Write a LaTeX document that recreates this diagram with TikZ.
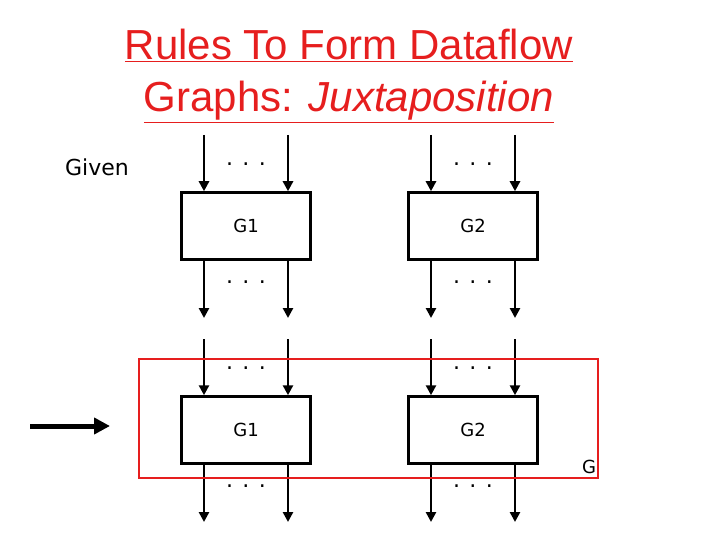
\documentclass[tikz,border=0pt]{standalone}
\usepackage{fontspec}
\setmainfont{DejaVu Sans}
\newfontfamily\titlefont{Liberation Sans}
\usetikzlibrary{arrows.meta}
\definecolor{tred}{RGB}{230,30,30}
\tikzset{x=1pt,y=-1pt,
 gbox/.style={draw,line width=2.5pt,minimum width=129pt,minimum height=67pt,inner sep=0pt,font=\fontsize{18}{20}\selectfont},
 flow/.style={line width=2.5pt,-{Triangle[length=10pt,width=10pt]}},
 dots/.style={font=\fontsize{22}{24}\selectfont}}
\begin{document}
\begin{tikzpicture}
\useasboundingbox (0,0) rectangle (720,540);
\node[text=tred,font=\titlefont\fontsize{42}{52}\selectfont,align=center] (title) at (349,76)
 {\underline{Rules To Form Dataflow}\\\underline{Graphs: \textit{Juxtaposition}}};
\node[font=\fontsize{22}{26}\selectfont] (given) at (97,167) {Given};
\foreach \n/\cx/\cy/\lab in {a/246/226/G1,b/473/226/G2,c/246/430/G1,d/473/430/G2}{
 \node[gbox] (\n) at (\cx,\cy) {\lab};
 \coordinate (\n i1) at (\cx-42,\cy-91);
 \coordinate (\n i2) at (\cx+42,\cy-91);
 \coordinate (\n o1) at (\cx-42,\cy+92);
 \coordinate (\n o2) at (\cx+42,\cy+92);
 \draw[flow] (\n i1) -- (\n.north -| \n i1);
 \draw[flow] (\n i2) -- (\n.north -| \n i2);
 \draw[flow] (\n.south -| \n o1) -- (\n o1);
 \draw[flow] (\n.south -| \n o2) -- (\n o2);
 \node[dots] (\n dt) at (\cx,\cy-62) {. . .};
 \node[dots] (\n db) at (\cx,\cy+56) {. . .};
}
\draw[tred,line width=2.5pt] (139,359) rectangle (598,478);
\node[font=\fontsize{18}{20}\selectfont] (G) at (589,467) {G};
\coordinate (bs) at (30,426);
\coordinate (be) at (110,426);
\draw[line width=5pt,-{Triangle[length=16pt,width=16pt]}] (bs) -- (be);
\end{tikzpicture}
\end{document}
